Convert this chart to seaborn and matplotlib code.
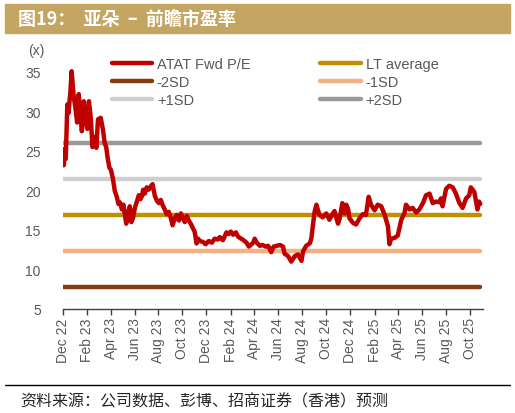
import matplotlib
matplotlib.use("Agg")
import matplotlib.pyplot as plt
import matplotlib.dates as mdates
import seaborn as sns
import pandas as pd

# dados (P/L futuro do ATAT)
datas = [
    "2022-12-01", "2022-12-03", "2022-12-06", "2022-12-08", "2022-12-12", "2022-12-15",
    "2022-12-20", "2022-12-23", "2022-12-28", "2023-01-02", "2023-01-06", "2023-01-10",
    "2023-01-14", "2023-01-18", "2023-01-23", "2023-01-27", "2023-02-01", "2023-02-05",
    "2023-02-10", "2023-02-14", "2023-02-18", "2023-02-24", "2023-02-28", "2023-03-07",
    "2023-03-13", "2023-03-17", "2023-03-21", "2023-03-25", "2023-03-29", "2023-04-02",
    "2023-04-07", "2023-04-12", "2023-04-17", "2023-04-21", "2023-04-25", "2023-04-30",
    "2023-05-04", "2023-05-07", "2023-05-11", "2023-05-15", "2023-05-20", "2023-05-24",
    "2023-05-28", "2023-06-02", "2023-06-07", "2023-06-12", "2023-06-16", "2023-06-20",
    "2023-06-23", "2023-06-27", "2023-07-02", "2023-07-07", "2023-07-12", "2023-07-17",
    "2023-07-20", "2023-07-23", "2023-07-28", "2023-08-02", "2023-08-07", "2023-08-12",
    "2023-08-17", "2023-08-22", "2023-08-27", "2023-09-01", "2023-09-06", "2023-09-11",
    "2023-09-16", "2023-09-22", "2023-09-27", "2023-10-02", "2023-10-07", "2023-10-12",
    "2023-10-17", "2023-10-22", "2023-10-27", "2023-11-01", "2023-11-06", "2023-11-10",
    "2023-11-14", "2023-11-22", "2023-11-29", "2023-12-07", "2023-12-15", "2023-12-22",
    "2023-12-30", "2024-01-04", "2024-01-12", "2024-01-21", "2024-01-27", "2024-02-01",
    "2024-02-07", "2024-02-14", "2024-02-19", "2024-02-24", "2024-03-02", "2024-03-12",
    "2024-03-18", "2024-03-23", "2024-03-29", "2024-04-02", "2024-04-07", "2024-04-15",
    "2024-04-22", "2024-04-30", "2024-05-06", "2024-05-14", "2024-05-20", "2024-05-28",
    "2024-06-05", "2024-06-13", "2024-06-17", "2024-06-26", "2024-07-04", "2024-07-13",
    "2024-07-21", "2024-07-30", "2024-08-03", "2024-08-11", "2024-08-20", "2024-08-24",
    "2024-08-28", "2024-09-01", "2024-09-06", "2024-09-10", "2024-09-14", "2024-09-22",
    "2024-10-01", "2024-10-09", "2024-10-18", "2024-10-22", "2024-10-31", "2024-11-04",
    "2024-11-11", "2024-11-17", "2024-11-21", "2024-11-26", "2024-11-29", "2024-12-08",
    "2024-12-16", "2024-12-25", "2025-01-02", "2025-01-10", "2025-01-17", "2025-01-23",
    "2025-02-01", "2025-02-09", "2025-02-18", "2025-02-26", "2025-03-07", "2025-03-11",
    "2025-03-15", "2025-03-24", "2025-04-01", "2025-04-10", "2025-04-18", "2025-04-22",
    "2025-05-01", "2025-05-09", "2025-05-18", "2025-05-26", "2025-06-04", "2025-06-12",
    "2025-06-21", "2025-06-29", "2025-07-08", "2025-07-16", "2025-07-20", "2025-07-24",
    "2025-08-02", "2025-08-10", "2025-08-19", "2025-08-27", "2025-09-05", "2025-09-13",
    "2025-09-22", "2025-09-30", "2025-10-04", "2025-10-13", "2025-10-21", "2025-10-25",
    "2025-10-28",
]
pe_fwd = [
    23.7, 23.2, 25.3, 24.0, 30.9, 29.8,
    32.6, 35.1, 32.0, 30.3, 28.6, 32.2,
    30.0, 27.5, 31.3, 29.0, 27.8, 31.3,
    29.0, 25.5, 26.8, 25.4, 29.0, 29.2,
    27.6, 26.0, 25.5, 24.0, 22.9, 22.6,
    21.5, 19.9, 19.2, 18.3, 18.5, 17.6,
    18.2, 17.1, 15.8, 17.0, 18.0, 16.0,
    16.5, 17.8, 18.6, 19.4, 18.9, 19.3,
    20.1, 19.6, 20.4, 20.1, 20.5, 20.8,
    20.0, 19.3, 18.7, 18.4, 18.8, 18.1,
    17.6, 17.0, 17.3, 16.6, 15.6, 16.4,
    16.9, 16.2, 17.1, 16.5, 16.0, 16.8,
    16.2, 15.8, 15.3, 14.8, 13.3, 13.9,
    13.6, 13.5, 13.2, 13.6, 13.4, 13.9,
    13.8, 14.1, 13.7, 14.7, 14.5, 14.8,
    14.4, 14.7, 14.2, 14.0, 13.8, 13.4,
    12.9, 13.1, 13.4, 13.9, 13.4, 13.0,
    13.1, 12.9, 13.0, 12.2, 12.9, 13.0,
    13.1, 12.9, 12.0, 11.7, 11.0, 11.7,
    11.9, 11.1, 12.3, 13.0, 13.3, 13.9,
    15.5, 17.2, 18.2, 17.5, 16.9, 16.6,
    17.1, 16.3, 17.1, 17.4, 15.8, 16.4,
    18.4, 17.1, 18.2, 17.6, 16.5, 15.9,
    15.7, 16.5, 17.0, 16.9, 19.2, 18.2,
    17.5, 18.2, 18.0, 17.0, 15.5, 13.2,
    13.9, 14.0, 14.3, 16.3, 17.1, 18.2,
    17.6, 17.8, 17.2, 17.6, 18.4, 19.4,
    19.6, 18.4, 18.6, 18.5, 19.0, 18.0,
    20.2, 20.6, 20.4, 19.6, 18.4, 17.8,
    19.0, 19.4, 20.4, 19.8, 17.6, 18.6,
    18.3,
]

# linhas de referência (média e desvios)
media_lp = 16.9
menos_2dp = 7.8
menos_1dp = 12.35
mais_1dp = 21.45
mais_2dp = 26.05

df = pd.DataFrame({"data": pd.to_datetime(datas), "pe": pe_fwd})

sns.set_theme(style="white")
plt.rcParams["font.family"] = ["Liberation Sans", "Noto Sans CJK SC", "DejaVu Sans"]

cor_texto = "#595959"

fig = plt.figure(figsize=(5.15, 4.14), dpi=100)
ax = fig.add_axes([63 / 515, 1 - 310 / 414, 420 / 515, (310 - 49.3) / 414])

extremos = [df["data"].iloc[0], df["data"].iloc[-1]]
refs = [
    ("-2SD", menos_2dp, "#843C0C"),
    ("-1SD", menos_1dp, "#F4B183"),
    ("LT average", media_lp, "#BF9000"),
    ("+1SD", mais_1dp, "#CFCFCF"),
    ("+2SD", mais_2dp, "#999999"),
]
for rotulo, valor, cor in refs:
    sns.lineplot(x=extremos, y=[valor, valor], ax=ax, color=cor, linewidth=2.0,
                 solid_capstyle="round", label=rotulo)

sns.lineplot(data=df, x="data", y="pe", ax=ax, color="#C00000", linewidth=2.7,
             label="ATAT Fwd P/E", solid_joinstyle="round")

hs, ls = ax.get_legend_handles_labels()
mapa = dict(zip(ls, hs))
ordem = ["ATAT Fwd P/E", "-2SD", "+1SD", "LT average", "-1SD", "+2SD"]
for h in hs:
    h.set_linewidth(3.2)
    h.set_solid_capstyle("round")
leg = ax.legend([mapa[o] for o in ordem], ordem, ncol=2, loc="upper left",
                bbox_to_anchor=(0.095, 1.0), frameon=False, fontsize=10.5,
                handlelength=2.8, handletextpad=0.3, columnspacing=4.8,
                labelspacing=0.27, borderaxespad=0.2)
for t in leg.get_texts():
    t.set_color(cor_texto)

ax.set_ylim(5, 38)
ax.set_yticks([5, 10, 15, 20, 25, 30, 35])
ax.set_xlim(pd.Timestamp("2022-12-01"), pd.Timestamp("2025-11-04"))
ax.xaxis.set_major_locator(mdates.MonthLocator(bymonth=[2, 4, 6, 8, 10, 12]))
ax.xaxis.set_major_formatter(mdates.DateFormatter("%b %y"))
ax.tick_params(axis="x", rotation=90, labelsize=10, colors=cor_texto,
               length=4, width=1, direction="out", bottom=True, pad=2)
ax.tick_params(axis="x", color="#404040")
ax.tick_params(axis="y", labelsize=10, colors=cor_texto, length=0, pad=16)
ax.set_xlabel("")
ax.set_ylabel("")
for lado in ["left", "right", "top"]:
    ax.spines[lado].set_visible(False)
ax.spines["bottom"].set_color("#404040")
ax.spines["bottom"].set_linewidth(1.0)

fig.text(28 / 515, 1 - 51 / 414, "(x)", fontsize=10, color=cor_texto, va="center")

# faixa do título
fig.patches.append(plt.Rectangle((5 / 515, 1 - 34 / 414), 505 / 515, 29 / 414,
                                 transform=fig.transFigure, color="#C5A562",
                                 zorder=0))
fig.text(18 / 515, 1 - 19.5 / 414, "图19：  亚朵  –  前瞻市盈率", fontsize=13,
         fontweight="bold", color="white", va="center",
         family=["Noto Sans CJK SC", "DejaVu Sans"])

# rodapé
fig.add_artist(plt.Line2D([5 / 515, 510 / 515], [1 - 386 / 414, 1 - 386 / 414],
                          transform=fig.transFigure, color="black", linewidth=1.0))
fig.text(20 / 515, 1 - 402 / 414, "资料来源：公司数据、彭博、招商证券（香港）预测",
         fontsize=11.5, color="#262626", va="center", style="italic",
         family=["Noto Sans CJK SC", "DejaVu Sans"])

fig.savefig("out.png", dpi=100)
